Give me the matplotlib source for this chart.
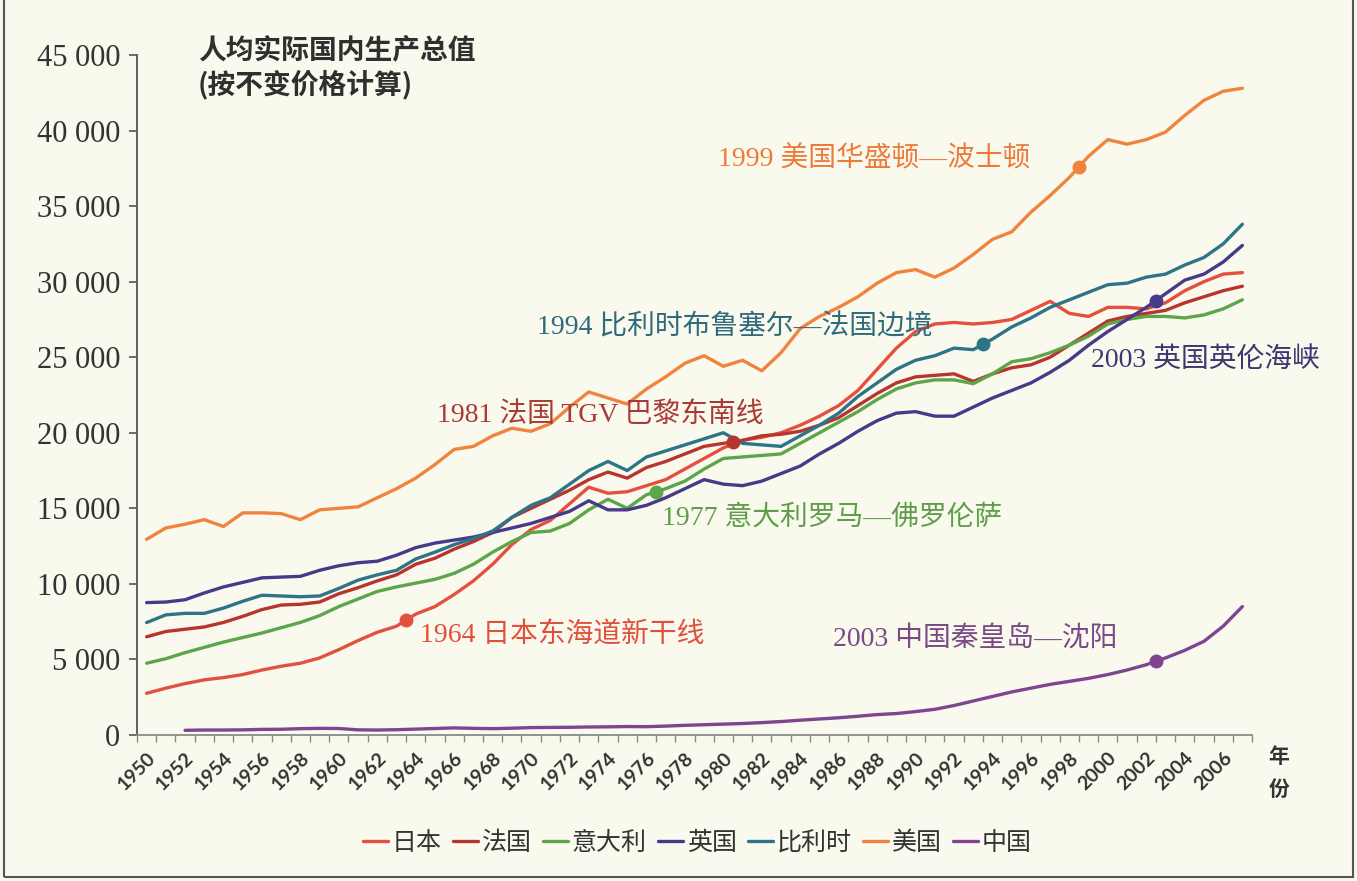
import numpy as np
import matplotlib.pyplot as plt
from matplotlib.ticker import FuncFormatter
from matplotlib.patches import Rectangle

# ==================================================
# DATA (per capita real GDP, constant prices)
# ==================================================
years = list(range(1950, 2008))

japan = [2760, 3100, 3400, 3650, 3800, 4000, 4300, 4550, 4750, 5100,
         5650, 6250, 6800, 7200, 8000, 8500, 9300, 10200, 11300, 12600,
         13600, 14200, 15300, 16400, 16000, 16100, 16500, 16900, 17600, 18300,
         19000, 19500, 19700, 20000, 20500, 21100, 21800, 22800, 24200, 25600,
         26700, 27200, 27300, 27200, 27300, 27500, 28100, 28700, 27900, 27700,
         28300, 28300, 28200, 28600, 29400, 30000, 30500, 30600]

france = [6500, 6850, 7000, 7150, 7450, 7850, 8300, 8600, 8650, 8800,
          9350, 9750, 10200, 10600, 11300, 11700, 12300, 12800, 13400, 14400,
          15000, 15600, 16200, 16900, 17400, 17000, 17700, 18100, 18600, 19100,
          19300, 19500, 19800, 19900, 20100, 20500, 21000, 21800, 22600, 23300,
          23700, 23800, 23900, 23400, 23900, 24300, 24500, 25000, 25800, 26600,
          27400, 27700, 27900, 28100, 28600, 29000, 29400, 29700]

italy = [4750, 5050, 5450, 5800, 6150, 6450, 6750, 7100, 7450, 7900,
         8500, 9000, 9500, 9800, 10050, 10300, 10700, 11300, 12100, 12800,
         13400, 13500, 14000, 14900, 15600, 15000, 15900, 16300, 16800, 17600,
         18300, 18400, 18500, 18600, 19300, 20000, 20700, 21400, 22200, 22900,
         23300, 23500, 23500, 23250, 23900, 24700, 24900, 25300, 25800, 26400,
         27200, 27500, 27700, 27700, 27600, 27800, 28200, 28800]

uk = [8760, 8800, 8950, 9400, 9800, 10100, 10400, 10450, 10500, 10900,
      11200, 11400, 11500, 11900, 12400, 12700, 12900, 13100, 13400, 13700,
      14000, 14400, 14800, 15500, 14900, 14900, 15200, 15700, 16300, 16900,
      16600, 16500, 16800, 17300, 17800, 18600, 19300, 20100, 20800, 21300,
      21400, 21100, 21100, 21700, 22300, 22800, 23300, 24000, 24800, 25800,
      26700, 27500, 28300, 29200, 30100, 30500, 31300, 32400]

belgium = [7440, 7950, 8050, 8050, 8400, 8850, 9250, 9200, 9150, 9200,
           9700, 10250, 10600, 10900, 11650, 12100, 12600, 13000, 13500, 14400,
           15200, 15700, 16600, 17500, 18100, 17500, 18400, 18800, 19200, 19600,
           20000, 19300, 19200, 19100, 19800, 20500, 21300, 22400, 23300, 24200,
           24800, 25100, 25600, 25500, 26200, 27000, 27600, 28300, 28800, 29300,
           29800, 29900, 30300, 30500, 31100, 31600, 32500, 33800]

usa = [12950, 13700, 13950, 14250, 13800, 14700, 14700, 14650, 14250, 14900,
       15000, 15100, 15700, 16300, 17000, 17900, 18900, 19100, 19800, 20300,
       20100, 20600, 21700, 22700, 22300, 21900, 22900, 23700, 24600, 25100,
       24400, 24800, 24100, 25300, 26900, 27700, 28300, 29000, 29900, 30600,
       30800, 30300, 30900, 31800, 32800, 33300, 34600, 35700, 36900, 38300,
       39400, 39100, 39400, 39900, 41000, 42000, 42600, 42800]

china = [np.nan, np.nan, 310, 330, 330, 340, 370, 380, 420, 440,
         430, 340, 330, 350, 390, 430, 470, 440, 420, 450,
         490, 500, 510, 530, 540, 560, 550, 590, 640, 680,
         720, 760, 820, 890, 980, 1060, 1140, 1240, 1350, 1420,
         1550, 1700, 1950, 2250, 2550, 2850, 3100, 3350, 3550, 3750,
         4000, 4300, 4650, 5100, 5600, 6200, 7200, 8500]

names = ["日本", "法国", "意大利", "英国", "比利时", "美国", "中国"]
series = [japan, france, italy, uk, belgium, usa, china]
colors = ["#e4503e", "#b8342e", "#5ca64a", "#463a8a", "#2d7488", "#f0843e", "#7f4590"]

# high speed rail openings (series, year, text)
hsr_country = ["美国", "比利时", "英国", "法国", "意大利", "日本", "中国"]
hsr_year = [1999, 1994, 2003, 1981, 1977, 1964, 2003]
hsr_text = ["1999 美国华盛顿—波士顿", "1994 比利时布鲁塞尔—法国边境",
            "2003 英国英伦海峡", "1981 法国 TGV 巴黎东南线",
            "1977 意大利罗马—佛罗伦萨", "1964 日本东海道新干线",
            "2003 中国秦皇岛—沈阳"]

# ==================================================
# LAYOUT
# ==================================================
bg = "#faf9ee"
text_colors = {"美国": "#ee7a3a", "比利时": "#2f6b7c", "英国": "#3e3672",
               "法国": "#a93a35", "意大利": "#5e9e48", "日本": "#e0513d",
               "中国": "#7a4a86"}
# left edge / vertical centre of each annotation (category index, value)
text_pos = {"美国": (29.7, 38100), "比利时": (20.3, 27000), "英国": (49.1, 24800),
            "法国": (15.1, 21200), "意大利": (26.8, 14400), "日本": (14.2, 6550),
            "中国": (35.7, 6300)}
marker_shift = -0.5   # markers in the source sit half a category left

cjk = ["Noto Sans CJK SC", "DejaVu Sans"]
serif_cjk = ["Liberation Serif", "Noto Sans CJK SC"]

fig = plt.figure(figsize=(13.57, 8.81), dpi=100, facecolor=bg)
ax = fig.add_axes([137 / 1357, 1 - 735 / 881, 1115 / 1357, 680 / 881])
ax.set_facecolor("none")

idx = np.arange(len(years))
for name, vals, col in zip(names, series, colors):
    ax.plot(idx, vals, color=col, linewidth=2.4, label=name,
            solid_capstyle="round", solid_joinstyle="round")

# markers + annotations
for country, yr, txt in zip(hsr_country, hsr_year, hsr_text):
    k = names.index(country)
    vals = np.array(series[k], dtype=float)
    ok = ~np.isnan(vals)
    mx = years.index(yr) + marker_shift
    my = np.interp(mx, idx[ok], vals[ok])
    ax.plot(mx, my, "o", color=colors[k], markersize=9, zorder=5)
    tx, ty = text_pos[country]
    ax.text(tx, ty, txt, color=text_colors[country], fontsize=20,
            family=serif_cjk, ha="left", va="center")

# axes
ax.set_xlim(-0.5, len(years) - 0.5)
ax.set_ylim(0, 45000)
ax.spines["top"].set_visible(False)
ax.spines["right"].set_visible(False)
ax.spines["left"].set_color("#555555")
ax.spines["bottom"].set_color("#8a8a8a")
ax.spines["left"].set_linewidth(1.3)
ax.spines["bottom"].set_linewidth(1.3)

ax.set_yticks(np.arange(0, 45001, 5000))
ax.yaxis.set_major_formatter(FuncFormatter(lambda v, p: f"{int(v):,}".replace(",", " ")))
ax.tick_params(axis="y", direction="out", length=6, width=1.2, color="#555555",
               pad=6, labelsize=22, labelcolor="#333333")
for lab in ax.get_yticklabels():
    lab.set_family("Liberation Serif")

ax.set_xticks(idx[::2])
ax.set_xticklabels([str(y) for y in years[::2]])
ax.set_xticks(np.arange(-0.5, len(years), 1), minor=True)
ax.tick_params(axis="x", which="major", length=0, pad=10)
ax.tick_params(axis="x", which="minor", direction="out", length=5, width=1,
               color="#8a8a8a")
for lab in ax.get_xticklabels():
    lab.set_rotation(45)
    lab.set_ha("right")
    lab.set_va("top")
    lab.set_rotation_mode("anchor")
    lab.set_family("Lato")
    lab.set_fontweight("bold")
    lab.set_fontsize(14)
    lab.set_color("#333333")

# title inside the plot
fig.text(198 / 1357, 1 - 68 / 881, "人均实际国内生产总值\n(按不变价格计算)",
         family=cjk, fontsize=20, fontweight="bold", color="#2f2f2f",
         ha="left", va="center", linespacing=1.25)

# axis unit
fig.text(1279 / 1357, 1 - 773 / 881, "年\n份", family=cjk, fontsize=15,
         fontweight="bold", color="#333333", ha="center", va="center",
         linespacing=1.7)

# legend
fig.legend(loc="center", bbox_to_anchor=(0.514, 0.043), ncol=7, frameon=False,
           prop={"family": cjk, "size": 18}, handlelength=1.0,
           handletextpad=0.15, columnspacing=0.45, labelcolor="#333333")

# scan frame
fig.patches.append(Rectangle((0.003, 0.004), 0.994, 1.2, transform=fig.transFigure,
                             fill=False, edgecolor="#555555", linewidth=1.5))

fig.savefig("out.png", dpi=100, facecolor=fig.get_facecolor())
